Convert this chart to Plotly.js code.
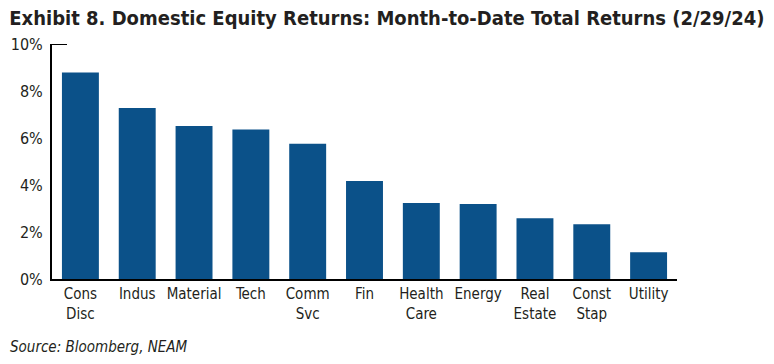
<!DOCTYPE html>
<html>
<head>
<meta charset="utf-8">
<script src="https://cdn.plot.ly/plotly-3.0.1.min.js"></script>
<style>html,body{margin:0;padding:0;background:#fff;}#chart{width:774px;height:364px;}</style>
</head>
<body>
<div id="chart"></div>
<script>
const categories = ["Cons<br>Disc","Indus","Material","Tech","Comm<br>Svc","Fin","Health<br>Care","Energy","Real<br>Estate","Const<br>Stap","Utility"];
const returnsPct = [8.79, 7.28, 6.51, 6.36, 5.76, 4.17, 3.23, 3.19, 2.59, 2.33, 1.14];
const yTickVals = [0, 2, 4, 6, 8, 10];
const yTickText = ["0%", "2%", "4%", "6%", "8%", "10%"];
const titleText = "<b>Exhibit 8. Domestic Equity Returns: Month-to-Date Total Returns (2/29/24)</b>";
const sourceText = "<i>Source: Bloomberg, NEAM</i>";

const font = "'DejaVu Sans Condensed', 'Liberation Sans', Arial, sans-serif";

Plotly.newPlot("chart", [{
  type: "bar",
  x: categories,
  y: returnsPct,
  marker: {color: "#0b5189"},
  hoverinfo: "skip"
}], {
  width: 774, height: 364,
  margin: {l: 52, r: 97, t: 44, b: 85},
  paper_bgcolor: "#fff", plot_bgcolor: "#fff",
  bargap: 0.35,
  showlegend: false,
  font: {family: font, color: "#231f20", size: 15},
  title: {text: titleText, x: 0.012, xanchor: "left", y: 0.95, yanchor: "middle",
          font: {family: font, size: 20, color: "#231f20"}},
  xaxis: {showline: true, linecolor: "#000", linewidth: 2, ticks: "", showgrid: false,
          tickfont: {size: 15, color: "#231f20"}, fixedrange: true},
  yaxis: {range: [0, 10], tickvals: yTickVals, ticktext: yTickText, showline: true,
          linecolor: "#000", linewidth: 2, ticks: "", showgrid: false, zeroline: false,
          tickfont: {size: 16, color: "#231f20"}, ticklabelstandoff: 4, fixedrange: true},
  shapes: [{type: "line", xref: "paper", yref: "y", x0: 0, x1: 0.024, y0: 10, y1: 10,
            line: {color: "#000", width: 2}}],
  annotations: [{text: sourceText, xref: "paper", yref: "paper", x: -0.0704, y: -0.289,
                 xanchor: "left", yanchor: "middle", showarrow: false,
                 font: {family: font, size: 15, color: "#231f20"}}]
}, {displayModeBar: false, staticPlot: true});
</script>
</body>
</html>
